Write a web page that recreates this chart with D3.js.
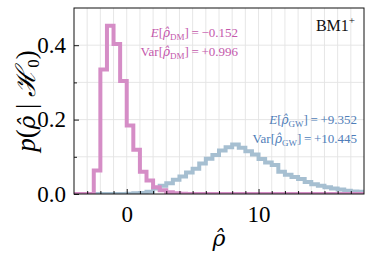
<!DOCTYPE html>
<html>
<head>
<meta charset="utf-8">
<script src="https://cdn.jsdelivr.net/npm/d3@7"></script>
<style>
    body { margin: 0; background: #fff; }
    text { font-family: "Liberation Serif", "DejaVu Serif", serif; }
    .rho { font-family: "DejaVu Serif", serif; font-style: italic; }
</style>
</head>
<body>
<div id="chart"></div>
<script>
// DATA
// left edges of the histogram bins (width 0.5)
var binLeft = [-4, -3.5, -3, -2.5, -2, -1.5, -1, -0.5, 0, 0.5, 1, 1.5, 2, 2.5, 3, 3.5,
    4, 4.5, 5, 5.5, 6, 6.5, 7, 7.5, 8, 8.5, 9, 9.5, 10, 10.5, 11, 11.5, 12, 12.5,
    13, 13.5, 14, 14.5, 15, 15.5, 16, 16.5, 17, 17.5];
var binWidth = 0.5;
// density of the DM statistic in each bin
var dmDensity = [0, 0, 0, 0.063, 0.335, 0.452, 0.403, 0.304, 0.184, 0.119, 0.060, 0.036,
    0.018, 0.010, 0.005, 0.002, 0.001, 0, 0, 0, 0, 0, 0, 0, 0, 0, 0, 0, 0, 0, 0, 0, 0, 0,
    0, 0, 0, 0, 0, 0, 0, 0, 0, 0];
// density of the GW statistic in each bin
var gwDensity = [0, 0, 0, 0, 0, 0, 0, 0, 0.001, 0.002, 0.003, 0.006, 0.015, 0.022, 0.029,
    0.038, 0.047, 0.058, 0.068, 0.082, 0.095, 0.105, 0.117, 0.126, 0.133, 0.124, 0.115,
    0.106, 0.094, 0.085, 0.078, 0.060, 0.052, 0.046, 0.040, 0.032, 0.026, 0.022, 0.018,
    0.015, 0.012, 0.009, 0.007, 0.006];
var xMajorTicks = [0, 10];
var yMajorTicks = [0.0, 0.2, 0.4];
var xDomain = [-4, 18];
var yDomain = [0, 0.5];
// annotation values
var dmStats = ["\u22120.152", "+0.996"];
var gwStats = ["+9.352", "+10.445"];

// SIZES
var svgWidth = 373;
var svgHeight = 259;
var margin = { top: 8, right: 9, bottom: 65, left: 74 };
var width = svgWidth - margin.left - margin.right;
var height = svgHeight - margin.top - margin.bottom;

var pinkLine = "#d58dc6";
var blueLine = "#a6bfd1";
var pinkText = "#c458ac";
var blueText = "#4f7db8";

var svg = d3.select("#chart")
    .append("svg")
    .attr("width", svgWidth)
    .attr("height", svgHeight);

var chartGroup = svg.append("g")
    .attr("transform", `translate(${margin.left}, ${margin.top})`);

// scales
var x = d3.scaleLinear().domain(xDomain).range([0, width]);
var y = d3.scaleLinear().domain(yDomain).range([height, 0]);

// grid lines
chartGroup.append("g")
    .selectAll("line")
    .data(d3.range(-3, 18, 1))
    .enter()
    .append("line")
    .attr("x1", d => x(d)).attr("x2", d => x(d))
    .attr("y1", 0).attr("y2", height)
    .attr("stroke", "#e3e3e3")
    .attr("stroke-width", 0.9);

chartGroup.append("g")
    .selectAll("line")
    .data([0.1, 0.2, 0.3, 0.4])
    .enter()
    .append("line")
    .attr("x1", 0).attr("x2", width)
    .attr("y1", d => y(d)).attr("y2", d => y(d))
    .attr("stroke", "#e3e3e3")
    .attr("stroke-width", 0.9);

// clip so the step lines sit inside the frame
svg.append("defs").append("clipPath")
    .attr("id", "plotClip")
    .append("rect")
    .attr("width", width)
    .attr("height", height);

// build step points from bins
function stepPoints(values) {
    var pts = [];
    binLeft.forEach(function (b, i) {
        pts.push([b, values[i]]);
    });
    pts.push([binLeft[binLeft.length - 1] + binWidth, values[values.length - 1]]);
    return pts;
}

var stepLine = d3.line()
    .x(d => x(d[0]))
    .y(d => y(d[1]))
    .curve(d3.curveStepAfter);

var histGroup = chartGroup.append("g").attr("clip-path", "url(#plotClip)");

histGroup.append("path")
    .attr("d", stepLine(stepPoints(gwDensity)))
    .attr("fill", "none")
    .attr("stroke", blueLine)
    .attr("stroke-width", 4);

histGroup.append("path")
    .attr("d", stepLine(stepPoints(dmDensity)))
    .attr("fill", "none")
    .attr("stroke", pinkLine)
    .attr("stroke-width", 4);

// axes with inward ticks
var bottomAxis = d3.axisBottom(x).tickValues(xMajorTicks).tickFormat(d3.format("d"))
    .tickSizeInner(-5).tickSizeOuter(0).tickPadding(12);
var bottomMinor = d3.axisBottom(x).tickValues(d3.range(-3, 18, 1).filter(d => d % 10 !== 0))
    .tickFormat("").tickSizeInner(-3).tickSizeOuter(0);
var leftAxis = d3.axisLeft(y).tickValues(yMajorTicks).tickFormat(d3.format(".1f"))
    .tickSizeInner(-5).tickSizeOuter(0).tickPadding(8);
var leftMinor = d3.axisLeft(y).tickValues([0.1, 0.3])
    .tickFormat("").tickSizeInner(-3).tickSizeOuter(0);

var xAxisG = chartGroup.append("g").attr("transform", `translate(0, ${height})`).call(bottomAxis);
chartGroup.append("g").attr("transform", `translate(0, ${height})`).call(bottomMinor);
var yAxisG = chartGroup.append("g").call(leftAxis);
chartGroup.append("g").call(leftMinor);

chartGroup.selectAll(".domain").remove();
chartGroup.selectAll(".tick line").attr("stroke", "#000").attr("stroke-width", 0.9);
xAxisG.selectAll("text")
    .attr("font-family", "Liberation Serif")
    .attr("font-size", 23)
    .attr("fill", "#000");
yAxisG.selectAll("text")
    .attr("font-family", "Liberation Serif")
    .attr("font-size", 23)
    .attr("fill", "#000");

// frame
chartGroup.append("rect")
    .attr("width", width)
    .attr("height", height)
    .attr("fill", "none")
    .attr("stroke", "#111")
    .attr("stroke-width", 1);

// annotation helper: E[rho_sub] = value / Var[rho_sub] = value
function statLine(xPos, yPos, prefix, italicPrefix, sub, val, color) {
    var t = svg.append("text")
        .attr("x", xPos)
        .attr("y", yPos)
        .attr("text-anchor", "end")
        .attr("font-size", 13)
        .attr("fill", color);
    t.append("tspan").attr("font-style", italicPrefix ? "italic" : "normal").text(prefix);
    t.append("tspan").text("[");
    t.append("tspan").attr("class", "rho").attr("font-size", 12).text("\u03C1\u0302");
    t.append("tspan").attr("font-size", 9).attr("dy", 2.5).text(sub);
    t.append("tspan").attr("dy", -2.5).text("]\u2009=\u2009" + val);
}

statLine(238, 37, "E", true, "DM", dmStats[0], pinkText);
statLine(238, 56, "Var", false, "DM", dmStats[1], pinkText);
statLine(357, 124, "E", true, "GW", gwStats[0], blueText);
statLine(357, 143, "Var", false, "GW", gwStats[1], blueText);

// model label
var bm = svg.append("text")
    .attr("x", 355)
    .attr("y", 31)
    .attr("text-anchor", "end")
    .attr("font-size", 16)
    .attr("fill", "#111");
bm.append("tspan").text("BM1");
bm.append("tspan").attr("font-size", 11).attr("dy", -7).text("+");

// axis titles
var yLabel = svg.append("text")
    .attr("transform", `translate(35, ${margin.top + height / 2}) rotate(-90)`)
    .attr("text-anchor", "middle")
    .attr("font-size", 27)
    .attr("fill", "#000");
yLabel.append("tspan").attr("font-style", "italic").text("p");
yLabel.append("tspan").text("(");
yLabel.append("tspan").attr("class", "rho").attr("font-size", 23).text("\u03C1\u0302");
yLabel.append("tspan").text(" | ");
yLabel.append("tspan").attr("font-style", "italic").text("\u210B");
yLabel.append("tspan").attr("font-size", 17).attr("dy", 4).text("0");
yLabel.append("tspan").attr("dy", -4).text(")");

svg.append("text")
    .attr("class", "rho")
    .attr("x", margin.left + width / 2)
    .attr("y", 246)
    .attr("text-anchor", "middle")
    .attr("font-size", 22)
    .attr("fill", "#000")
    .text("\u03C1\u0302");
</script>
</body>
</html>
